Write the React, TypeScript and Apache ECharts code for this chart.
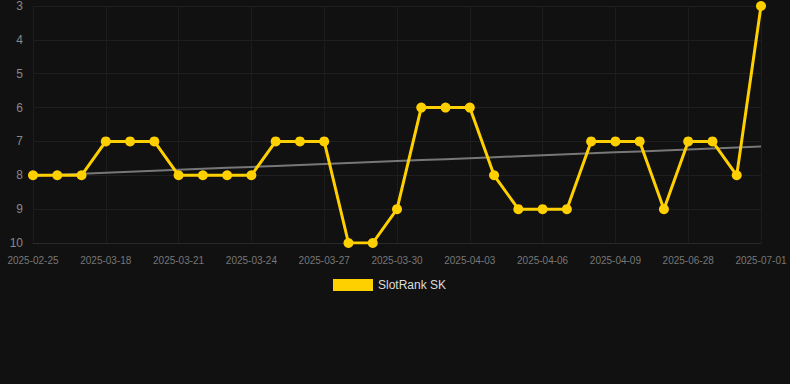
import React, { useEffect, useRef } from "react";
import * as echarts from "echarts";

const categories = [
  "2025-02-25", "2025-03-16", "2025-03-17", "2025-03-18", "2025-03-19", "2025-03-20",
  "2025-03-21", "2025-03-22", "2025-03-23", "2025-03-24", "2025-03-25", "2025-03-26",
  "2025-03-27", "2025-03-28", "2025-03-29", "2025-03-30", "2025-03-31", "2025-04-01",
  "2025-04-03", "2025-04-04", "2025-04-05", "2025-04-06", "2025-04-07", "2025-04-08",
  "2025-04-09", "2025-04-10", "2025-06-27", "2025-06-28", "2025-06-29", "2025-06-30",
  "2025-07-01",
];

const rankValues = [
  8, 8, 8, 7, 7, 7, 8, 8, 8, 8, 7, 7, 7, 10, 10, 9, 6, 6, 6, 8, 9, 9, 9, 7, 7, 7, 9, 7, 7, 8, 3,
];

const seriesName = "SlotRank SK";

function trendLine(values: number[]): number[] {
  const n = values.length;
  const mx = (n - 1) / 2;
  const my = values.reduce((a, b) => a + b, 0) / n;
  let sxy = 0;
  let sxx = 0;
  values.forEach((v, i) => {
    sxy += (i - mx) * (v - my);
    sxx += (i - mx) * (i - mx);
  });
  const slope = sxy / sxx;
  return values.map((_, i) => +(my + slope * (i - mx)).toFixed(4));
}

export default function App() {
  const ref = useRef<HTMLDivElement>(null);
  useEffect(() => {
    if (!ref.current) return;
    const chart = echarts.init(ref.current, null, { renderer: "svg" });
    chart.setOption({
      animation: false,
      backgroundColor: "#111111",
      grid: { left: 33, right: 29, top: 6, bottom: 141, containLabel: false },
      legend: {
        data: [{ name: seriesName, icon: "rect" }],
        bottom: 88,
        left: 328,
        itemWidth: 40,
        itemHeight: 12,
        itemGap: 5,
        textStyle: { color: "#dddddd", fontSize: 12, fontFamily: "Liberation Sans, Arial, sans-serif" },
      },
      xAxis: {
        type: "category",
        data: categories,
        boundaryGap: false,
        axisLine: { show: true, lineStyle: { color: "#2a2a2a" } },
        axisTick: { show: false },
        axisLabel: {
          interval: 2,
          color: "#777777",
          fontSize: 10,
          margin: 12,
          fontFamily: "Liberation Sans, Arial, sans-serif",
        },
        splitLine: { show: true, interval: 2, lineStyle: { color: "#1c1c1c", width: 1 } },
      },
      yAxis: {
        type: "value",
        inverse: true,
        min: 3,
        max: 10,
        interval: 1,
        axisLine: { show: false },
        axisTick: { show: false },
        axisLabel: {
          color: "#888888",
          fontSize: 12,
          margin: 10,
          fontFamily: "Liberation Sans, Arial, sans-serif",
        },
        splitLine: { show: true, lineStyle: { color: "#1f1f1f", width: 1 } },
      },
      series: [
        {
          name: seriesName,
          type: "line",
          data: rankValues,
          color: "#FFD000",
          lineStyle: { color: "#FFD000", width: 3 },
          itemStyle: { color: "#FFD000" },
          symbol: "circle",
          symbolSize: 10,
          z: 3,
        },
        {
          name: "trend",
          type: "line",
          data: trendLine(rankValues),
          symbol: "none",
          lineStyle: { color: "#777777", width: 2 },
          z: 2,
          silent: true,
        },
      ],
    });
    return () => chart.dispose();
  }, []);
  return <div ref={ref} style={{ width: 790, height: 384, position: "absolute", left: 0, top: 0 }} />;
}
